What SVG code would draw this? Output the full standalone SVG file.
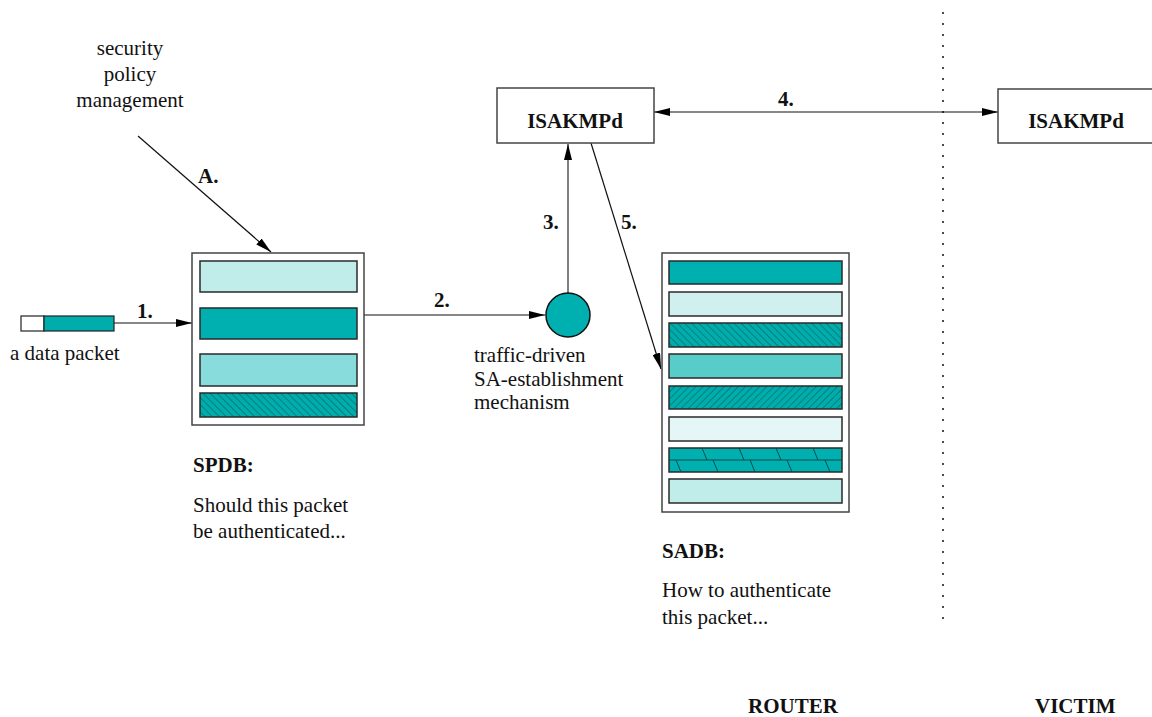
<svg xmlns="http://www.w3.org/2000/svg" width="1152" height="717" viewBox="0 0 1152 717">
  <style>
    text { font-family: "Liberation Serif", "Times New Roman", serif; font-size: 21px; fill: #111; }
    .b { font-weight: bold; }
    .box { fill: #fff; stroke: #444; stroke-width: 1.5; }
    .bar { stroke: #2a2a2a; stroke-width: 1.5; }
    .ln { stroke: #111; stroke-width: 1.2; fill: none; }
    .gl { stroke: #555; stroke-width: 1.5; fill: none; }
  </style>
  <defs>
    <marker id="ah" viewBox="0 0 16 8" refX="16" refY="4" markerWidth="16" markerHeight="8" markerUnits="userSpaceOnUse" orient="auto-start-reverse">
      <path d="M0,0 L16,4 L0,8 Z" fill="#000"/>
    </marker>
    <pattern id="hatchB" patternUnits="userSpaceOnUse" width="5" height="5" patternTransform="rotate(-45)">
      <rect width="5" height="5" fill="#00adad"/>
      <line x1="0" y1="0" x2="0" y2="5" stroke="#0a5050" stroke-width="1"/>
    </pattern>
    <pattern id="hatchF" patternUnits="userSpaceOnUse" width="5" height="5" patternTransform="rotate(45)">
      <rect width="5" height="5" fill="#00adad"/>
      <line x1="0" y1="0" x2="0" y2="5" stroke="#0a5050" stroke-width="1"/>
    </pattern>
  </defs>

  <!-- connectors -->
  <g id="connectors">
    <line class="ln" x1="138" y1="136" x2="271" y2="252" marker-end="url(#ah)"/>
    <line class="ln" x1="114" y1="323" x2="192" y2="323" marker-end="url(#ah)"/>
    <line class="ln" x1="364" y1="315" x2="545" y2="315" marker-end="url(#ah)"/>
    <line class="gl" x1="568" y1="293" x2="568" y2="144" marker-end="url(#ah)"/>
    <line class="ln" x1="591" y1="143" x2="661" y2="369" marker-end="url(#ah)"/>
    <line class="ln" x1="654" y1="112" x2="998" y2="112" marker-start="url(#ah)" marker-end="url(#ah)"/>
    <line x1="943" y1="12" x2="943" y2="622" stroke="#111" stroke-width="1.5" stroke-dasharray="2 9"/>
  </g>

  <!-- connector labels -->
  <g id="labels">
    <text class="b" x="198" y="183">A.</text>
    <text class="b" x="137" y="318">1.</text>
    <text class="b" x="434" y="307">2.</text>
    <text class="b" x="543" y="229">3.</text>
    <text class="b" x="778" y="106">4.</text>
    <text class="b" x="621" y="229">5.</text>
  </g>

  <g id="policy-mgmt">
    <text x="130" y="55" text-anchor="middle">security</text>
    <text x="130" y="81" text-anchor="middle">policy</text>
    <text x="130" y="107" text-anchor="middle">management</text>
  </g>

  <g id="packet">
    <rect x="21" y="316" width="23" height="15" fill="#fff" stroke="#222" stroke-width="1.2"/>
    <rect x="44" y="316" width="70" height="15" fill="#00adad" stroke="#222" stroke-width="1.2"/>
    <text x="10" y="360">a data packet</text>
  </g>

  <g id="spdb">
    <rect class="box" x="192" y="253" width="172" height="172"/>
    <rect class="bar" x="200" y="261" width="157" height="31" fill="#c0ecea"/>
    <rect class="bar" x="200" y="308" width="157" height="31" fill="#00b0b0"/>
    <rect class="bar" x="200" y="354" width="157" height="32" fill="#88dcdc"/>
    <rect class="bar" x="200" y="393" width="157" height="24" fill="url(#hatchB)"/>
    <text class="b" x="193" y="472">SPDB:</text>
    <text x="193" y="512">Should this packet</text>
    <text x="193" y="538">be authenticated...</text>
  </g>

  <g id="sa-mechanism">
    <circle cx="568" cy="315" r="22" fill="#00b0b0" stroke="#111" stroke-width="1.5"/>
    <text x="474" y="362">traffic-driven</text>
    <text x="474" y="386">SA-establishment</text>
    <text x="474" y="409">mechanism</text>
  </g>

  <g id="isakmpd-router">
    <rect class="box" x="497" y="88" width="157" height="55"/>
    <text class="b" x="575" y="128" text-anchor="middle">ISAKMPd</text>
  </g>

  <g id="isakmpd-victim">
    <rect class="box" x="998" y="89" width="160" height="54"/>
    <text class="b" x="1076" y="128" text-anchor="middle">ISAKMPd</text>
  </g>

  <g id="sadb">
    <rect class="box" x="662" y="253" width="187" height="259"/>
    <rect class="bar" x="669" y="261" width="173" height="23" fill="#00b0b0"/>
    <rect class="bar" x="669" y="292" width="173" height="24" fill="#d0f0f0"/>
    <rect class="bar" x="669" y="323" width="173" height="24" fill="url(#hatchB)"/>
    <rect class="bar" x="669" y="354" width="173" height="24" fill="#58ccc8"/>
    <rect class="bar" x="669" y="386" width="173" height="23" fill="url(#hatchF)"/>
    <rect class="bar" x="669" y="417" width="173" height="24" fill="#e4f6f6"/>
    <rect class="bar" x="669" y="448" width="173" height="24" fill="#00b0b0"/>
    <g stroke="#0a4a4a" stroke-width="1">
      <line x1="669" y1="460" x2="842" y2="460"/>
      <line x1="702" y1="448" x2="707" y2="460"/>
      <line x1="739" y1="448" x2="744" y2="460"/>
      <line x1="776" y1="448" x2="781" y2="460"/>
      <line x1="813" y1="448" x2="818" y2="460"/>
      <line x1="676" y1="460" x2="681" y2="472"/>
      <line x1="713" y1="460" x2="718" y2="472"/>
      <line x1="750" y1="460" x2="755" y2="472"/>
      <line x1="787" y1="460" x2="792" y2="472"/>
      <line x1="825" y1="460" x2="830" y2="472"/>
    </g>
    <rect class="bar" x="669" y="479" width="173" height="24" fill="#c0ecea"/>
    <text class="b" x="662" y="558">SADB:</text>
    <text x="662" y="597">How to authenticate</text>
    <text x="662" y="624">this packet...</text>
  </g>

  <g id="sides">
    <text class="b" x="748" y="713">ROUTER</text>
    <text class="b" x="1035" y="713">VICTIM</text>
  </g>
</svg>
